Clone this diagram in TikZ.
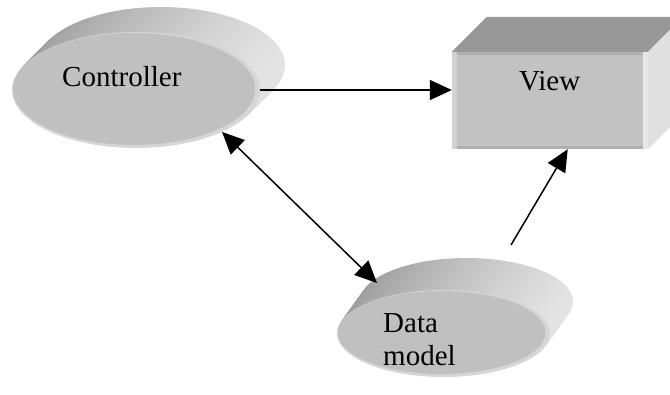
\documentclass[tikz,border=0pt]{standalone}
\usepackage{fontspec}
\setmainfont{Liberation Serif}
\usetikzlibrary{shapes.geometric,arrows.meta,calc}
\definecolor{frontgray}{HTML}{C0C0C0}
\definecolor{rimgray}{HTML}{D6D6D6}
\definecolor{sidedark}{HTML}{9C9C9C}
\definecolor{sidelight}{HTML}{E4E4E4}
\definecolor{boxtop}{HTML}{989898}
\definecolor{boxright}{HTML}{E0E0E0}
\definecolor{boxfront}{HTML}{C2C2C2}
\definecolor{stripleft}{HTML}{D2D2D2}
\definecolor{stripright}{HTML}{E8E8E8}
\definecolor{stripdark}{HTML}{B0B0B0}
\tikzset{
  frontell/.style={ellipse, inner sep=0pt, fill=rimgray},
  viewbox/.style={rectangle, inner sep=0pt, fill=boxfront},
  lbl/.style={anchor=base west, inner sep=0pt, font=\fontsize{29}{33}\selectfont},
  conn/.style={line width=1.5pt, -{Triangle[length=22pt,width=20pt]}},
  conn2/.style={line width=1.5pt, {Triangle[length=22pt,width=20pt]}-{Triangle[length=22pt,width=20pt]}}
}
\begin{document}
\begin{tikzpicture}[x=1pt,y=-1pt]
\useasboundingbox (0,0) rectangle (670,394);
\clip (0,0) rectangle (670,394);
% Controller extrusion
\foreach \i in {25,24,...,1}{
  \shade[left color=sidedark, right color=sidelight] (136+\i,90-\i) ellipse [x radius=124, y radius=58];
}
\node[frontell, minimum width=248pt, minimum height=116pt] (ctrl) at (136,90) {};
\fill[frontgray] ($(ctrl.center)+(-2,-1)$) ellipse [x radius=121, y radius=56];
\node[lbl] (ctrltext) at (62,86) {Controller};
% Data model extrusion
\foreach \i in {32,31,...,1}{
  \shade[left color=sidedark, right color=sidelight] (443.5+\i*23/32,333.5-\i) ellipse [x radius=106.5, y radius=43.5];
}
\node[frontell, minimum width=213pt, minimum height=87pt] (data) at (443.5,333.5) {};
\fill[frontgray] ($(data.center)+(-2,-1)$) ellipse [x radius=104, y radius=41.5];
\node[lbl] (datatext1) at (383,332) {Data};
\node[lbl] (datatext2) at (383,365) {model};
% View box
\node[viewbox, minimum width=196pt, minimum height=97pt] (view) at (550,100.5) {};
\fill[boxtop] (view.north west) -- ++(35,-35) -- ++(196,0) -- (view.north east) -- cycle;
\fill[boxright] (view.north east) -- ++(35,-35) -- ++(0,97) -- (view.south east) -- cycle;
\fill[stripdark] (view.north west) rectangle ($(view.north east)+(0,3)$);
\fill[stripdark] ($(view.south west)+(0,-3)$) rectangle (view.south east);
\fill[stripleft] (view.north west) rectangle ($(view.south west)+(5,0)$);
\fill[stripright] ($(view.north east)+(-5,0)$) rectangle (view.south east);
\node[lbl] (viewtext) at (519,90) {View};
% connectors
\coordinate (dmin) at ($(data.center)+(-66.5,-50.5)$);
\coordinate (dmout) at ($(data.center)+(67.5,-88.5)$);
\draw[conn] (ctrl.east) -- (view.west |- ctrl.east);
\draw[conn2] (ctrl.-26) -- (dmin);
\draw[conn] (dmout) -- (view.-70);
\end{tikzpicture}
\end{document}
